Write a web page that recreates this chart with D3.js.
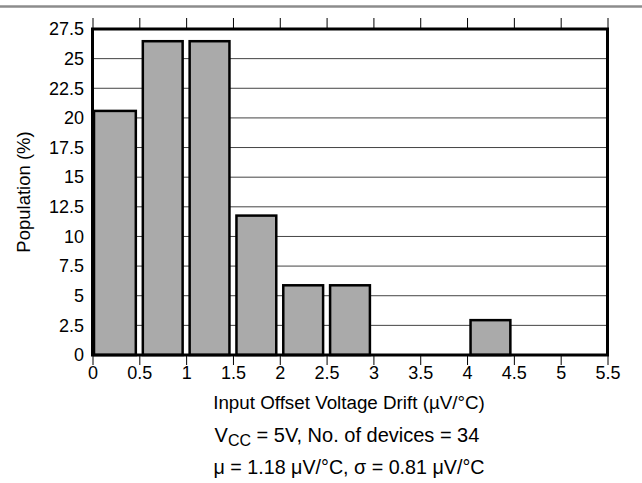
<!DOCTYPE html>
<html>
<head>
<meta charset="utf-8">
<script src="https://cdn.jsdelivr.net/npm/d3@7"></script>
<style>
  html, body { margin: 0; padding: 0; background: #fff; }
  svg { display: block; font-family: "Liberation Sans", Arial, sans-serif; }
</style>
</head>
<body>
<svg id="chart" width="642" height="483"></svg>
<script>
// Histogram bins (µV/°C) and population share of each bin (%)
const binStarts = [0, 0.5, 1, 1.5, 2, 2.5, 3, 3.5, 4, 4.5, 5];
const binWidth = 0.5;
const population = [20.59, 26.47, 26.47, 11.76, 5.88, 5.88, 0, 0, 2.94, 0, 0];
const xTicks = [0, 0.5, 1, 1.5, 2, 2.5, 3, 3.5, 4, 4.5, 5, 5.5];
const yTicks = [0, 2.5, 5, 7.5, 10, 12.5, 15, 17.5, 20, 22.5, 25, 27.5];

const FONT = "Liberation Sans, Arial, sans-serif";
const svg = d3.select("#chart");
const plotL = 92.5, plotR = 607.5, plotT = 29, plotB = 355;
const midX = (plotL + plotR) / 2;

const x = d3.scaleLinear().domain([0, 5.5]).range([plotL, plotR]);
const y = d3.scaleLinear().domain([0, 27.5]).range([plotB, plotT]);

// rule across the top of the figure
svg.append("line")
  .attr("x1", 0).attr("x2", 642).attr("y1", 6.5).attr("y2", 6.5)
  .attr("stroke", "#8c8c8c").attr("stroke-width", 2.5);

// horizontal grid
svg.append("g")
  .selectAll("line")
  .data(yTicks.slice(1, -1))
  .join("line")
  .attr("x1", plotL).attr("x2", plotR)
  .attr("y1", d => y(d)).attr("y2", d => y(d))
  .attr("stroke", "#444").attr("stroke-width", 1);

// bars
svg.append("g")
  .selectAll("rect")
  .data(binStarts.map((s, i) => ({ s, v: population[i] })).filter(d => d.v > 0))
  .join("rect")
  .attr("x", d => x(d.s) + (d.s === 0 ? 1.5 : 3.5))
  .attr("width", d => x(d.s + binWidth) - x(d.s) - (d.s === 0 ? 5 : 7))
  .attr("y", d => y(d.v))
  .attr("height", d => y(0) - y(d.v))
  .attr("fill", "#aaaaaa")
  .attr("stroke", "#000")
  .attr("stroke-width", 2.5);

// top tick marks
svg.append("g")
  .attr("transform", `translate(0,${plotT})`)
  .call(d3.axisTop(x).tickValues(xTicks).tickSize(11).tickFormat(""))
  .call(g => g.select(".domain").remove())
  .call(g => g.selectAll("line").attr("stroke", "#000").attr("stroke-width", 1));

// bottom axis
svg.append("g")
  .attr("transform", `translate(0,${plotB})`)
  .call(d3.axisBottom(x).tickValues(xTicks).tickSize(10).tickPadding(1).tickFormat(d3.format("")))
  .call(g => g.select(".domain").remove())
  .call(g => g.selectAll("line").attr("stroke", "#000").attr("stroke-width", 1))
  .call(g => g.selectAll("text").attr("font-size", 18).attr("fill", "#000").attr("font-family", FONT));

// left axis labels
svg.append("g")
  .attr("transform", `translate(${plotL},0)`)
  .call(d3.axisLeft(y).tickValues(yTicks).tickSize(0).tickPadding(8.5).tickFormat(d3.format("")))
  .call(g => g.select(".domain").remove())
  .call(g => g.selectAll("text").attr("font-size", 18).attr("fill", "#000").attr("font-family", FONT));

// plot frame
svg.append("rect")
  .attr("x", plotL).attr("y", plotT)
  .attr("width", plotR - plotL).attr("height", plotB - plotT)
  .attr("fill", "none").attr("stroke", "#000").attr("stroke-width", 3);

// axis titles
svg.append("text")
  .attr("transform", `translate(30,${(plotT + plotB) / 2}) rotate(-90)`)
  .attr("text-anchor", "middle")
  .attr("font-size", 18.5)
  .text("Population (%)");

svg.append("text")
  .attr("x", midX - 1).attr("y", 408.5)
  .attr("text-anchor", "middle")
  .attr("font-size", 18.8)
  .text("Input Offset Voltage Drift (\u00b5V/\u00b0C)");

// test conditions
const cond = svg.append("text")
  .attr("x", midX - 3).attr("y", 442)
  .attr("text-anchor", "middle")
  .attr("font-size", 20);
cond.append("tspan").text("V");
cond.append("tspan").attr("dy", 4).attr("font-size", 16).text("CC");
cond.append("tspan").attr("dy", -4).text(" = 5V, No. of devices = 34");

svg.append("text")
  .attr("x", midX - 1).attr("y", 473.5)
  .attr("text-anchor", "middle")
  .attr("font-size", 19.7)
  .text("\u03bc = 1.18 \u03bcV/\u00b0C, \u03c3 = 0.81 \u03bcV/\u00b0C");
</script>
</body>
</html>
